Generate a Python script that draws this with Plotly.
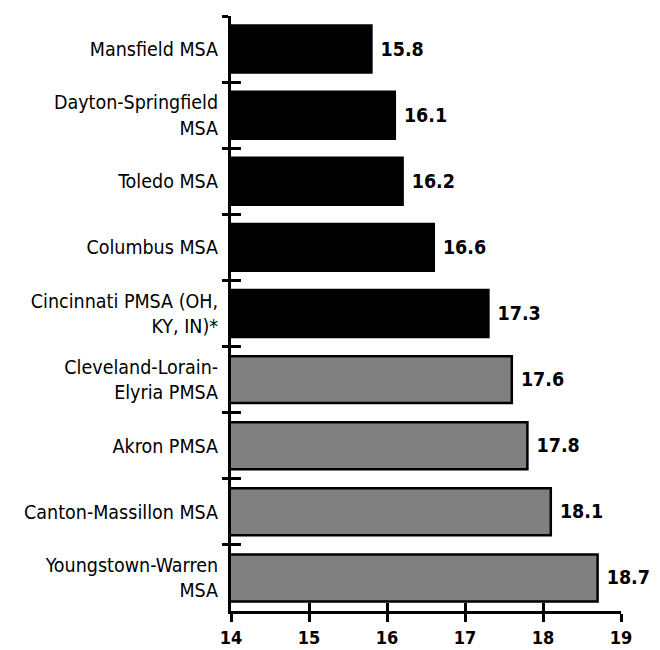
import plotly.graph_objects as go

categories = [
    "Mansfield MSA",
    "Dayton-Springfield<br>MSA",
    "Toledo MSA",
    "Columbus MSA",
    "Cincinnati PMSA (OH,<br>KY, IN)*",
    "Cleveland-Lorain-<br>Elyria PMSA",
    "Akron PMSA",
    "Canton-Massillon MSA",
    "Youngstown-Warren<br>MSA",
]
values = [15.8, 16.1, 16.2, 16.6, 17.3, 17.6, 17.8, 18.1, 18.7]
groups = ["black"] * 5 + ["gray"] * 4
x_ticks = [14, 15, 16, 17, 18, 19]

color_map = {"black": "#000000", "gray": "#808080"}
colors = [color_map[g] for g in groups]

FONT = "Liberation Sans Narrow, DejaVu Sans Condensed, Arial Narrow, sans-serif"

fig = go.Figure()
fig.add_trace(go.Bar(
    x=values,
    y=categories,
    base=0,
    orientation="h",
    marker=dict(color=colors, line=dict(color="#000000", width=2.5)),
    text=[f" {v:.1f}" for v in values],
    textposition="outside",
    textfont=dict(family=FONT, size=19.5, color="#000000", weight="bold"),
    cliponaxis=False,
    showlegend=False,
))
# helper invisible trace for inside-tick axes
fig.add_trace(go.Scatter(x=[14], y=[0], xaxis="x2", yaxis="y2",
                         mode="markers", marker=dict(opacity=0),
                         showlegend=False, hoverinfo="skip"))

fig.update_layout(
    width=660, height=650,
    margin=dict(l=223, r=47, t=8, b=47),
    paper_bgcolor="white", plot_bgcolor="white",
    bargap=0.29,
    font=dict(family=FONT, color="#000000"),
    xaxis=dict(
        range=[14, 19], tickvals=x_ticks, ticktext=[str(t) for t in x_ticks],
        ticks="outside", ticklen=8, tickwidth=3, tickcolor="#000",
        showline=True, linewidth=3, linecolor="#000",
        showgrid=False, zeroline=False, automargin=False,
        tickfont=dict(family=FONT, size=18, weight="bold"),
        ticklabelstandoff=0,
    ),
    yaxis=dict(
        categoryorder="array", categoryarray=categories,
        autorange="reversed",
        ticks="outside", ticklen=6, tickwidth=3, tickcolor="#000",
        tickson="boundaries",
        showline=True, linewidth=3, linecolor="#000",
        showgrid=False, zeroline=False, automargin=False,
        tickfont=dict(family=FONT, size=19.5),
        ticklabelstandoff=6,
    ),
    xaxis2=dict(
        overlaying="x", anchor="y", range=[14, 19], tickvals=x_ticks,
        showticklabels=False, ticks="inside", ticklen=8, tickwidth=3,
        tickcolor="#000", showgrid=False, zeroline=False, showline=False,
        side="bottom", automargin=False,
    ),
    yaxis2=dict(
        overlaying="y", anchor="x", range=[8.5, -0.5],
        tickvals=[-0.5 + i for i in range(10)],
        showticklabels=False, ticks="inside", ticklen=10, tickwidth=3,
        tickcolor="#000", showgrid=False, zeroline=False, showline=False,
        side="left", automargin=False,
    ),
)

fig.write_html("out.html")
